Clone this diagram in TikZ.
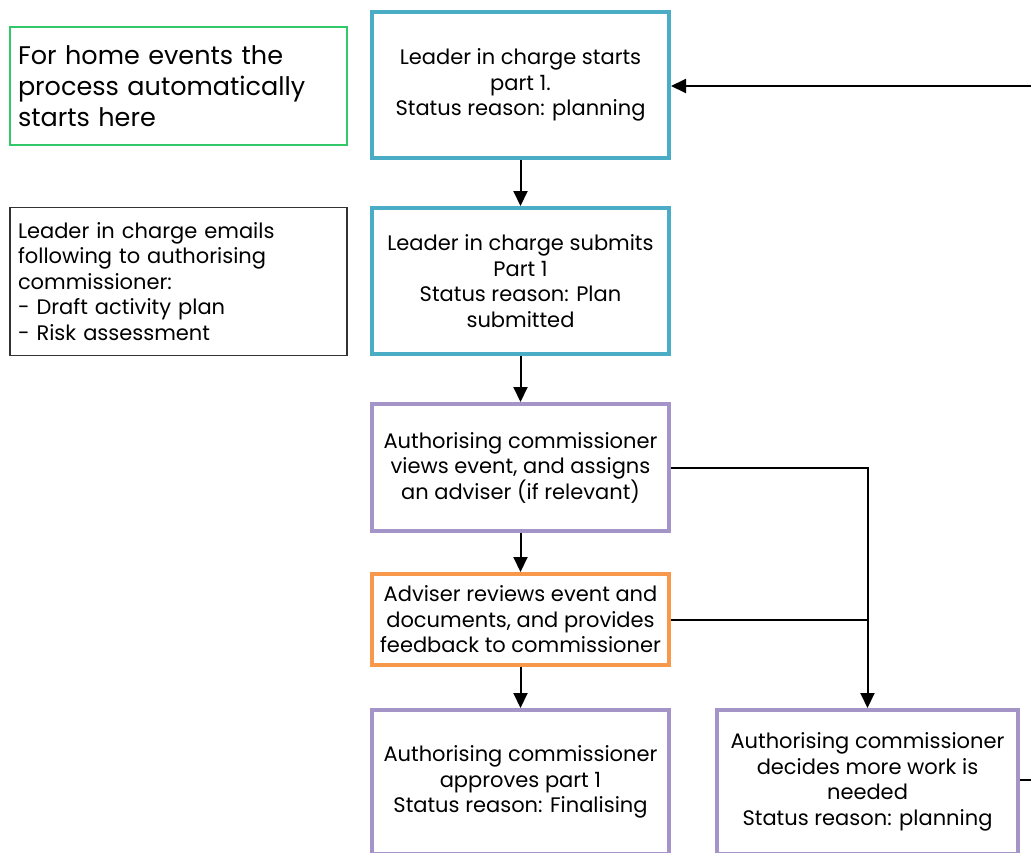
\documentclass[tikz,border=0pt]{standalone}
\usepackage{fontspec}
\setmainfont{Poppins}
\usetikzlibrary{arrows.meta}

\definecolor{partone}{RGB}{75,172,198}
\definecolor{commissioner}{RGB}{164,148,200}
\definecolor{adviser}{RGB}{247,152,74}
\definecolor{homenote}{RGB}{50,200,105}
\definecolor{notegray}{RGB}{50,50,50}

\tikzset{
  stage/.style={draw, line width=4pt, rectangle, minimum width=297pt, align=center,
    inner sep=0pt, font=\fontsize{21}{25.5}\selectfont},
  stepbox/.style={stage, draw=partone, minimum height=146pt},
  reviewbox/.style={stage, draw=commissioner},
  adviserbox/.style={stage, draw=adviser, minimum height=91pt},
  notebox/.style={draw, line width=1.5pt, rectangle, minimum width=337pt, text width=321pt,
    align=left, inner xsep=8pt},
  flow/.style={line width=2pt, -{Triangle[length=15pt,width=14pt]}}
}

\begin{document}
\begin{tikzpicture}[x=1pt,y=-1pt]
  \useasboundingbox (0,0) rectangle (1031,852);

  % Side notes
  \node[notebox, draw=homenote, minimum height=118pt, font=\fontsize{25.5}{31}\selectfont]
    (home) at (178.5,86) {For home events the\\process automatically\\starts here};
  \node[notebox, draw=notegray, minimum height=148pt, font=\fontsize{21}{25.5}\selectfont]
    (emails) at (178.5,281.5) {Leader in charge emails\\following to authorising\\commissioner:\\- Draft activity plan\\- Risk assessment};

  % Main column
  \node[stepbox] (starts) at (520.5,85) {Leader in charge starts\\part 1.\\Status reason: planning};
  \node[stepbox] (submits) at (520.5,281) {Leader in charge submits\\Part 1\\Status reason: Plan\\submitted};
  \node[reviewbox, minimum height=127pt] (views) at (520.5,467.5) {Authorising commissioner\\views event, and assigns\\an adviser (if relevant)};
  \node[adviserbox] (reviews) at (520.5,619.5) {Adviser reviews event and\\documents, and provides\\feedback to commissioner};
  \node[reviewbox, minimum height=144pt] (approves) at (520.5,782) {Authorising commissioner\\approves part 1\\Status reason: Finalising};
  \node[reviewbox, minimum height=144pt, minimum width=301pt] (morework) at (867.5,782) {Authorising commissioner\\decides more work is\\needed\\Status reason: planning};

  % Loose ends at the right edge
  \coordinate (loopin) at (1031,86);
  \coordinate (loopout) at (1031,780);

  % Connectors
  \draw[flow] (loopin) -- (starts.east |- loopin);
  \draw[flow] (starts) -- (submits);
  \draw[flow] (submits) -- (views);
  \draw[flow] (views) -- (reviews);
  \draw[flow] (reviews) -- (approves);
  \draw[flow] (views.east) -| (morework.north);
  \draw[line width=2pt] (reviews.east) -- (reviews.east -| morework.north);
  \draw[line width=2pt] (morework.east |- loopout) -- (loopout);

\end{tikzpicture}
\end{document}
